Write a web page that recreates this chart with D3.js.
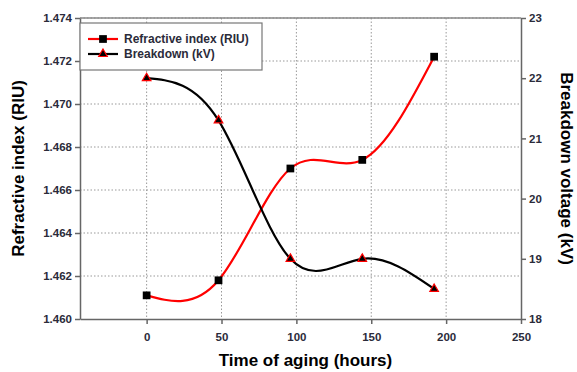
<!DOCTYPE html>
<html>
<head>
<meta charset="utf-8">
<script src="https://cdn.jsdelivr.net/npm/d3@7"></script>
<style>
  body { margin: 0; background: #fff; }
  svg { font-family: "Liberation Sans", Arial, sans-serif; font-weight: bold; }
  .tick text { fill: #2b2b3a; font-size: 11.5px; }
  .grid line { stroke: #999; stroke-dasharray: 1.5,2; }
</style>
</head>
<body>
<div id="chart"></div>
<script>
var hours = [0, 48, 96, 144, 192],
	refractive = [1.4611, 1.4618, 1.4670, 1.4674, 1.4722],
	breakdown = [22.0, 21.3, 19.0, 19.0, 18.5],
	xTicks = [0, 50, 100, 150, 200, 250],
	leftTicks = [1.460, 1.462, 1.464, 1.466, 1.468, 1.470, 1.472, 1.474],
	rightTicks = [18, 19, 20, 21, 22, 23];

var width = 577,
	height = 372,
	margin = {top: 18, right: 56, bottom: 53, left: 80},
	innerW = width - margin.left - margin.right,
	innerH = height - margin.top - margin.bottom;

var svg = d3.select("#chart")
	.append('svg')
	.attr('width', width)
	.attr('height', height);

var g = svg.append('g')
	.attr('transform', 'translate(' + margin.left + ',' + margin.top + ')');

var x = d3.scaleLinear().domain([-44.5, 250]).range([0, innerW]),
	yL = d3.scaleLinear().domain([1.460, 1.474]).range([innerH, 0]),
	yR = d3.scaleLinear().domain([18, 23]).range([innerH, 0]);

// grid
g.append('g').attr('class', 'grid')
	.selectAll('line')
	.data(xTicks.slice(0, -1))
	.enter().append('line')
	.attr('x1', function(d){ return x(d); })
	.attr('x2', function(d){ return x(d); })
	.attr('y1', 0).attr('y2', innerH);

g.append('g').attr('class', 'grid')
	.selectAll('line')
	.data(leftTicks.slice(1))
	.enter().append('line')
	.attr('x1', 0).attr('x2', innerW)
	.attr('y1', function(d){ return yL(d); })
	.attr('y2', function(d){ return yL(d); });

// frame top
g.append('line')
	.attr('x1', 0).attr('x2', innerW)
	.attr('y1', 0).attr('y2', 0)
	.attr('stroke', '#888').attr('stroke-width', 1.5);

function styleAxis(sel){
	sel.select('.domain').attr('stroke', '#666').attr('stroke-width', 1.5);
	sel.selectAll('.tick line').attr('stroke', '#666').attr('stroke-width', 1.5);
}

g.append('g')
	.attr('transform', 'translate(0,' + innerH + ')')
	.call(d3.axisBottom(x).tickValues(xTicks).tickSize(5).tickSizeOuter(0))
	.call(styleAxis)
	.selectAll('text').attr('dy', '1.2em');

g.append('g')
	.call(d3.axisLeft(yL).tickValues(leftTicks).tickFormat(d3.format('.3f')).tickSize(5).tickSizeOuter(0))
	.call(styleAxis);

g.append('g')
	.attr('transform', 'translate(' + innerW + ',0)')
	.call(d3.axisRight(yR).tickValues(rightTicks).tickFormat(d3.format('d')).tickSize(5).tickSizeOuter(0))
	.call(styleAxis);

// curves
var riLine = d3.line()
	.x(function(d){ return x(d[0]); })
	.y(function(d){ return yL(d[1]); })
	.curve(d3.curveNatural);

var bdLine = d3.line()
	.x(function(d){ return x(d[0]); })
	.y(function(d){ return yR(d[1]); })
	.curve(d3.curveNatural);

var riData = hours.map(function(h, i){ return [h, refractive[i]]; }),
	bdData = hours.map(function(h, i){ return [h, breakdown[i]]; });

g.append('path')
	.attr('d', riLine(riData))
	.attr('fill', 'none').attr('stroke', '#ff0000').attr('stroke-width', 2.2);

g.append('path')
	.attr('d', bdLine(bdData))
	.attr('fill', 'none').attr('stroke', '#000').attr('stroke-width', 2.2);

var square = d3.symbol().type(d3.symbolSquare).size(60),
	triangle = d3.symbol().type(d3.symbolTriangle).size(32);

g.selectAll('.sq')
	.data(riData)
	.enter().append('path')
	.attr('class', 'sq')
	.attr('d', square)
	.attr('transform', function(d){ return 'translate(' + x(d[0]) + ',' + yL(d[1]) + ')'; })
	.attr('fill', '#000');

g.selectAll('.tri')
	.data(bdData)
	.enter().append('path')
	.attr('class', 'tri')
	.attr('d', triangle)
	.attr('transform', function(d){ return 'translate(' + x(d[0]) + ',' + yR(d[1]) + ')'; })
	.attr('fill', '#000').attr('stroke', '#ff0000').attr('stroke-width', 1.2);

// legend
var legend = g.append('g');
legend.append('rect')
	.attr('x', 0).attr('y', 5)
	.attr('width', 182).attr('height', 47)
	.attr('fill', '#fff').attr('stroke', '#777').attr('stroke-width', 1.2);

var legendItems = [
	{label: 'Refractive index (RIU)', color: '#ff0000', sym: square, fill: '#000', stroke: 'none'},
	{label: 'Breakdown (kV)', color: '#000', sym: triangle, fill: '#000', stroke: '#ff0000'}
];

legend.selectAll('.item')
	.data(legendItems)
	.enter().append('g')
	.attr('class', 'item')
	.attr('transform', function(d, i){ return 'translate(8,' + (21 + i * 15) + ')'; })
	.each(function(d){
		var s = d3.select(this);
		s.append('line').attr('x1', 0).attr('x2', 30).attr('y1', 0).attr('y2', 0)
			.attr('stroke', d.color).attr('stroke-width', 2.2);
		s.append('path').attr('d', d.sym).attr('transform', 'translate(15,0)')
			.attr('fill', d.fill).attr('stroke', d.stroke).attr('stroke-width', 1.2);
		s.append('text').attr('x', 36).attr('y', 4)
			.attr('font-size', 12).attr('fill', '#2b2b3a')
			.text(d.label);
	});

// axis titles
svg.append('text')
	.attr('x', margin.left + innerW / 2 + 5)
	.attr('y', 366)
	.attr('text-anchor', 'middle')
	.attr('font-size', 17)
	.text('Time of aging (hours)');

svg.append('text')
	.attr('transform', 'translate(24,' + (margin.top + innerH / 2) + ') rotate(-90)')
	.attr('text-anchor', 'middle')
	.attr('font-size', 17)
	.text('Refractive index (RIU)');

svg.append('text')
	.attr('transform', 'translate(561,' + (margin.top + innerH / 2) + ') rotate(90)')
	.attr('text-anchor', 'middle')
	.attr('font-size', 17)
	.text('Breakdown voltage (kV)');
</script>
</body>
</html>
